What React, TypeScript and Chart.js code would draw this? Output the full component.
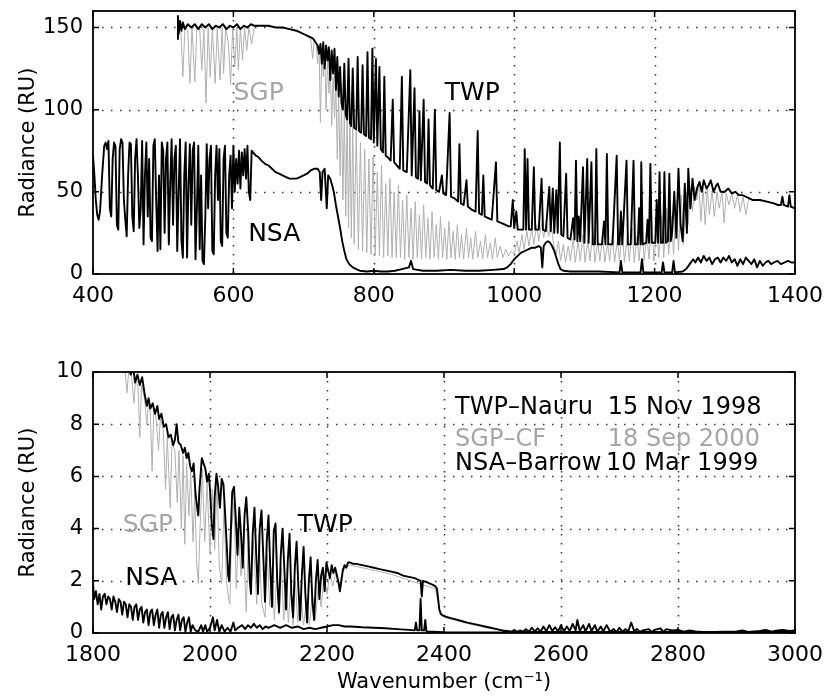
import React, { useEffect, useRef } from 'react';
import { Chart, registerables } from 'chart.js';

Chart.register(...registerables);

const FONT = 'DejaVu Sans';
const BLACK = '#000000';
const GRAY = '#a6a6a6';
const LINE_GRAY = '#b0b0b0';

type Pt = [number, number];

// ---------- Top panel (400-1400 cm-1) ----------
const topTWP: Pt[] = [
  [520,143],[521,157],[522,146],[524,154],[526,148],[528,153],[531,149],[535,152],[540,150],[545,152],[550,149],[555,152],[560,150],[565,152],[570,149],[575,151],[580,150],[585,152],[590,149],[595,151],[600,150],[605,152],[610,149],[615,151],[620,150],[625,152],[630,151],[640,151],[650,151],[660,150],[670,150],[680,149],[690,148],
  [700,146],[705,145],[710,144],[714,143],[717,141],[720,139],[722,134],[724,140],[726,128],[728,141],[730,125],[732,139],[734,130],[736,138],[738,118],[740,136],[742,122],[744,137],[746,112],[748,132],[750,108],[752,126],[754,104],[756,100],[758,128],[760,97],[762,94],[764,131],[766,92],[768,90],[770,125],[772,89],[775,88],[777,132],[779,87],[782,86],[784,127],[786,85],[789,84],[791,135],[793,83],[796,82],[798,137],
  [800,80],[803,131],[805,78],[808,126],[810,76],[813,74],[815,120],[817,72],[820,71],[824,69],[827,106],[829,68],[833,66],[837,64],[840,120],[842,63],[847,62],[852,124],[854,60],[858,113],[860,59],[863,58],[865,99],[867,57],[871,106],[873,56],[876,55],[878,94],[880,54],[884,52],[887,100],[889,51],[893,50],[897,60],[899,49],[903,48],[908,98],[910,47],[915,46],[920,44],[922,79],[924,43],[928,42],[932,57],[934,41],[940,39],[945,38],[948,87],[950,37],[954,36],[956,60],[958,35],[963,34],[968,33],[974,68],[976,32],[982,31],[987,30],[992,29],[995,29],[998,45],
  [1000,28],[1003,38],[1005,27],[1010,27],[1013,27],[1015,76],[1017,27],[1019,70],[1021,27],[1025,27],[1028,65],[1030,27],[1035,27],[1039,58],[1041,27],[1045,26],[1050,53],[1052,26],[1055,52],[1057,25],[1060,51],[1062,25],[1065,80],[1067,24],[1070,23],[1074,61],[1076,22],[1080,21],[1084,34],[1086,21],[1088,69],[1090,20],[1092,35],[1094,20],[1098,65],[1100,19],[1104,70],[1106,19],[1110,68],[1112,18],[1115,18],[1117,76],[1119,18],[1125,18],[1128,32],[1130,18],[1132,73],[1134,18],[1140,18],[1146,72],[1148,18],[1150,18],[1152,38],[1154,18],[1160,69],[1162,18],[1166,18],[1170,69],[1172,18],[1176,18],[1178,40],[1180,18],[1181,68],[1183,18],[1188,19],[1190,33],[1192,19],[1194,67],[1196,19],[1201,19],[1203,45],[1205,19],[1207,62],[1209,19],[1212,19],[1214,62],[1216,19],[1219,20],[1221,61],[1223,20],
  [1225,25],[1228,50],[1231,22],[1234,64],[1237,30],[1240,20],[1243,55],[1246,25],[1248,64],[1251,40],[1254,58],[1257,45],[1261,53],[1264,56],[1267,50],[1270,57],[1274,52],[1277,54],[1280,57],[1284,50],[1288,54],[1290,55],[1294,50],[1300,50],[1305,52],[1310,49],[1315,50],[1320,48],[1325,48],[1330,47],[1335,46],[1340,45],[1350,45],[1360,44],[1370,43],[1375,42],[1380,42],[1382,47],[1384,42],[1390,41],[1392,48],[1394,41],[1400,40],
];

const topSGP: Pt[] = [
  [525,150],[528,120],[531,150],[535,148],[538,116],[541,150],[545,117],[548,150],[552,149],[555,124],[558,149],[561,104],[564,150],[567,120],[570,150],[574,116],[577,150],[581,118],[584,150],[586,122],[589,150],[593,140],[596,115],[599,150],[602,126],[605,150],[607,124],[610,150],[613,130],[616,150],[619,136],[622,150],[626,140],[630,151],[640,151],[660,150],[680,149],[700,146],[705,145],[710,143],[713,131],[715,142],[718,140],[720,128],[722,139],[724,92],[726,136],[728,120],[730,134],[732,100],[734,130],[736,110],[738,128],[740,90],[742,120],[744,95],[746,115],[748,70],[750,110],[752,60],[754,105],[756,45],[758,100],[760,35],[762,98],[764,28],[766,95],[768,22],[770,90],[772,18],[775,88],[778,15],[781,80],[784,14],[787,76],[790,13],[793,70],[796,12],[799,72],
  [802,12],[805,62],[808,11],[811,66],[814,10],[817,55],[820,11],[823,58],[826,10],[829,50],[832,10],[835,54],[838,10],[841,45],[844,9],[847,48],[850,10],[853,40],[856,9],[859,44],[862,10],[865,36],[868,9],[871,42],[874,10],[877,34],[880,9],[883,38],[886,10],[889,30],[892,9],[895,35],[898,10],[901,28],[904,9],[907,32],[910,10],[913,26],[916,9],[919,30],[922,10],[925,24],[928,9],[932,28],[935,10],[938,22],[941,9],[945,26],[948,10],[952,20],[955,9],[959,24],[962,10],[966,19],[969,9],[973,22],[976,10],[980,17],[984,10],[988,15],[992,11],[996,14],
  [1000,12],[1004,20],[1007,13],[1011,24],[1014,15],[1018,26],[1021,17],[1025,28],[1028,18],[1032,30],[1035,20],[1039,31],[1042,22],[1046,32],[1049,23],[1053,29],[1056,18],[1060,12],[1063,20],[1066,8],[1070,18],[1073,7],[1077,17],[1080,8],[1084,22],[1087,7],[1091,20],[1094,8],[1098,24],[1101,7],[1105,21],[1108,8],[1112,26],[1115,7],[1119,20],[1122,8],[1126,24],[1129,7],[1133,19],[1136,8],[1140,25],[1143,7],[1147,21],[1150,8],[1154,27],[1157,7],[1161,22],[1164,8],[1168,28],[1171,7],[1175,23],[1178,8],[1182,30],[1185,8],[1189,24],[1192,9],[1196,32],[1199,8],
  [1203,27],[1206,10],[1210,36],[1213,10],[1217,40],[1220,12],[1224,35],[1227,12],[1231,45],[1234,14],[1238,48],[1241,18],[1245,50],[1248,30],[1251,52],[1254,38],[1257,53],[1260,45],[1263,54],[1266,32],[1269,53],[1272,30],[1275,52],[1278,36],[1282,51],[1285,35],[1289,50],[1292,40],[1296,50],[1299,31],[1302,49],[1306,42],[1310,49],[1314,40],[1318,48],[1322,38],[1326,47],[1330,36],[1334,46],[1340,45],[1350,45],[1360,44],[1370,43],[1380,42],[1390,41],[1400,40],
];

const topNSA: Pt[] = [
  [400,72],[402,60],[404,45],[406,36],[408,33],[410,38],[413,60],[416,78],[418,80],[420,76],[422,81],[424,40],[426,35],[428,70],[430,80],[432,78],[434,30],[436,27],[438,76],[440,82],[442,80],[444,45],[446,33],[448,23],[450,60],[452,80],[454,79],[456,35],[458,26],[460,70],[462,82],[464,60],[466,28],[468,40],[470,81],[472,18],[474,60],[476,80],[478,35],[480,70],[482,22],[484,20],[486,78],[488,82],[490,45],[492,14],[494,60],[496,15],[498,80],[500,75],[502,25],[504,70],[506,80],[508,18],[510,55],[512,82],[514,30],[516,70],[518,78],[520,14],[522,50],[524,82],[526,20],[528,10],[530,60],[532,80],[534,10],[536,55],[538,79],[540,30],[542,75],[544,80],[546,9],[548,40],[550,78],[552,15],[554,60],[556,8],[558,6],[560,35],[562,79],[564,40],[566,70],[568,78],[570,14],[572,12],[574,60],[576,78],[578,45],[580,76],[582,20],[584,17],[586,70],[588,78],[590,25],[592,22],[594,60],[596,72],[598,40],
  [600,78],[602,50],[604,70],[606,55],[608,75],[610,52],[612,74],[614,60],[616,76],[618,58],[620,78],[622,50],[624,45],[626,75],[628,74],[632,72],[636,71],[640,69],[645,67],[650,66],[655,64],[660,62],[665,61],[670,60],[675,59],[680,58],[685,58],[690,58],[695,59],[700,60],[705,61],[710,63],[715,64],[720,64],[723,62],[725,45],[727,62],[730,64],[733,40],[735,60],[738,58],[740,55],[743,50],[746,42],[749,35],[752,28],[755,20],[758,14],[761,9],[765,6],[770,4],[775,3],[780,2],[790,1.5],
  [800,2],[810,1.5],[820,1.5],[830,2],[840,3],[850,4],[853,8],[856,3],[870,2],[890,2],[910,2.5],[930,2],[950,2],[970,2.5],[985,3],[990,4],[995,6],[1000,9],[1005,11],[1010,13],[1015,14],[1020,15],[1025,16],[1030,16],[1035,17],[1038,16],[1040,4],[1042,17],[1045,19],[1048,20],[1051,19],[1054,17],[1057,14],[1060,10],[1063,6],[1066,3],[1070,2],[1080,1.5],[1100,1.5],[1120,1.5],[1150,1],[1152,8],[1154,1],[1180,1],[1182,9],[1184,1],[1200,1],[1210,1],[1212,7],[1214,1],[1225,1],[1227,8],[1229,1],
  [1240,1.5],[1245,3],[1250,6],[1255,9],[1258,7],[1262,10],[1266,7],[1270,11],[1274,8],[1278,10],[1282,6],[1286,9],[1290,10],[1294,7],[1298,10],[1302,8],[1306,11],[1310,7],[1314,9],[1318,5],[1322,9],[1326,6],[1330,10],[1334,8],[1338,6],[1342,9],[1346,4],[1350,8],[1354,5],[1358,7],[1362,8],[1366,6],[1370,7],[1375,8],[1380,6],[1385,7],[1390,8],[1395,7],[1400,7],
];

// ---------- Bottom panel (1800-3000 cm-1) ----------
const botTWP: Pt[] = [
  [1850,11],[1855,10.5],[1860,10.2],[1865,9.9],[1868,10.3],[1872,9.6],[1876,9.9],[1880,9.5],[1884,9.8],[1888,9.2],[1892,8.7],[1895,9.0],[1898,8.6],[1902,8.8],[1906,8.4],[1910,8.7],[1913,8.2],[1917,8.4],[1921,7.9],[1925,8.0],[1929,7.5],[1933,7.6],[1937,7.2],[1940,7.4],[1943,8.0],[1946,7.3],[1950,7.2],[1954,6.9],[1957,7.1],[1960,6.7],[1963,6.9],[1966,6.4],[1969,6.2],[1972,6.5],[1975,5.4],[1977,5.0],[1980,4.5],[1982,5.5],[1986,6.7],[1989,6.5],[1992,6.3],[1995,5.8],[1998,6.1],
  [2000,5.5],[2003,4.2],[2006,3.6],[2008,5.2],[2011,6.1],[2014,5.6],[2017,4.8],[2020,5.9],[2023,5.7],[2026,4.5],[2029,3.2],[2031,2.2],[2033,2.0],[2035,3.5],[2038,5.4],[2041,5.6],[2044,4.4],[2047,3.0],[2050,4.8],[2053,3.8],[2056,2.5],[2059,4.5],[2062,5.2],[2065,4.0],[2068,2.0],[2070,1.5],[2073,3.8],[2076,4.8],[2079,3.0],[2082,1.5],[2085,4.0],[2088,4.7],[2091,3.0],[2094,1.2],[2097,3.5],[2100,4.5],[2103,2.5],[2106,1.0],[2109,3.9],[2112,4.2],[2115,2.0],[2118,0.8],[2121,3.0],[2124,4.0],[2127,2.5],[2130,0.9],[2133,2.8],[2136,3.8],[2139,1.5],[2142,0.6],[2145,2.5],[2148,3.5],[2151,1.8],[2154,0.5],[2157,2.2],[2160,3.3],[2163,1.5],[2166,0.4],[2169,2.0],[2172,2.9],[2175,1.2],[2178,0.5],[2181,2.0],[2184,2.8],[2187,1.3],[2190,2.2],[2193,2.5],[2196,1.6],[2199,2.7],
  [2202,2.4],[2205,2.1],[2208,2.6],[2211,2.3],[2214,2.5],[2217,2.2],[2220,1.9],[2222,1.6],[2224,1.9],[2227,2.4],[2230,2.6],[2233,2.5],[2236,2.7],[2240,2.7],[2245,2.65],[2250,2.65],[2260,2.6],[2270,2.55],[2280,2.5],[2290,2.45],[2300,2.4],[2310,2.35],[2320,2.3],[2330,2.2],[2340,2.15],[2350,2.1],[2355,2.05],[2360,2.0],[2362,1.4],[2364,2.0],[2370,1.95],[2375,1.9],[2380,1.85],[2385,1.8],[2388,1.7],[2390,1.3],[2392,0.9],[2395,0.72],[2400,0.65],[2410,0.58],[2420,0.52],[2430,0.46],[2440,0.4],[2450,0.35],[2460,0.3],[2470,0.25],[2480,0.2],[2490,0.15],[2500,0.1],[2510,0.07],[2520,0.05],[2600,0.04],[2700,0.04],[2800,0.04],[2900,0.04],[3000,0.04],
];

const botSGP: Pt[] = [
  [1850,10.5],[1855,10.0],[1858,9.2],[1861,10.0],[1866,9.8],[1870,8.8],[1873,9.8],[1877,9.4],[1880,7.5],[1883,9.5],[1888,9.0],[1892,8.0],[1895,8.8],[1898,8.4],[1901,6.2],[1904,8.6],[1908,8.2],[1912,7.0],[1915,8.2],[1920,7.8],[1924,5.5],[1927,7.5],[1932,4.8],[1935,7.3],[1940,7.0],[1944,5.0],[1947,7.0],[1951,4.0],[1954,6.8],[1957,3.4],[1960,6.5],[1964,4.5],[1967,6.2],[1971,3.5],[1974,5.5],[1977,2.8],[1980,1.9],[1983,4.0],[1987,6.3],[1991,3.5],[1995,5.8],
  [2000,3.0],[2004,5.5],[2008,3.2],[2012,5.8],[2016,2.5],[2020,1.9],[2024,5.0],[2028,2.0],[2032,1.3],[2034,1.1],[2037,4.0],[2041,5.0],[2045,1.7],[2049,4.0],[2053,2.2],[2057,3.5],[2062,0.8],[2066,4.0],[2070,1.5],[2074,3.5],[2080,1.1],[2084,3.8],[2088,1.2],[2094,0.6],[2098,3.0],[2102,1.0],[2106,2.5],[2110,0.5],[2114,2.2],[2118,0.7],[2122,2.5],[2126,0.5],[2130,2.0],[2134,0.4],[2138,1.8],[2142,0.3],[2146,2.0],[2150,0.4],[2155,1.5],[2160,0.3],[2165,1.2],[2170,0.3],[2175,1.5],[2180,0.5],[2185,1.8],[2190,1.0],[2195,2.2],
  [2200,1.5],[2205,2.3],[2210,1.8],[2215,2.3],[2220,1.8],[2225,2.2],[2230,2.5],[2240,2.6],[2250,2.55],[2270,2.45],[2290,2.35],[2310,2.25],[2330,2.1],[2350,1.95],[2370,1.8],[2385,1.7],[2390,1.2],[2393,0.7],[2400,0.6],[2420,0.48],[2440,0.36],[2460,0.26],[2480,0.17],[2500,0.09],[2520,0.04],[2550,0.02],[3000,0.02],
];

const botNSA: Pt[] = [
  [1800,1.9],[1802,1.3],[1805,1.6],[1808,1.1],[1811,1.5],[1814,0.9],[1817,1.4],[1820,1.5],[1823,1.1],[1826,1.4],[1829,1.3],[1832,0.9],[1835,1.4],[1838,1.2],[1841,0.8],[1844,1.3],[1847,1.2],[1850,0.7],[1853,1.2],[1856,1.1],[1859,0.6],[1862,1.1],[1865,1.0],[1868,0.5],[1871,1.0],[1874,1.1],[1877,0.5],[1880,0.9],[1883,1.0],[1886,0.4],[1889,0.8],[1892,0.9],[1895,0.3],[1898,0.8],[1901,0.9],[1904,0.3],[1907,0.7],[1910,0.9],[1913,0.2],[1916,0.7],[1919,0.8],[1922,0.2],[1925,0.6],[1928,0.8],[1931,0.15],[1934,0.6],[1937,0.7],[1940,0.1],[1943,0.5],[1946,0.7],[1949,0.1],[1952,0.5],[1955,0.6],[1958,0.05],[1961,0.4],[1964,0.6],[1967,0.05],[1970,0.3],[1975,0.1],[1980,0.05],[1985,0.3],[1988,0.05],[1992,0.3],[1995,0.05],
  [2000,0.2],[2005,0.6],[2008,0.1],[2012,0.5],[2016,0.05],[2020,0.3],[2025,0.05],[2030,0.2],[2035,0.05],[2040,0.4],[2043,0.1],[2048,0.2],[2055,0.3],[2060,0.15],[2065,0.3],[2070,0.2],[2075,0.35],[2080,0.2],[2085,0.3],[2090,0.15],[2095,0.25],[2100,0.2],[2110,0.3],[2120,0.2],[2130,0.3],[2140,0.2],[2150,0.25],[2160,0.15],[2170,0.2],[2180,0.15],[2190,0.2],[2200,0.25],[2210,0.3],[2220,0.3],[2230,0.25],[2240,0.25],[2260,0.22],[2280,0.2],[2300,0.18],[2320,0.15],[2340,0.12],[2350,0.1],[2352,0.4],[2354,0.1],[2358,0.1],[2360,1.3],[2362,0.1],[2366,0.1],[2368,0.5],[2370,0.05],[2380,0.05],[2400,0.03],[2450,0.02],
  [2500,0.03],[2510,0.06],[2515,0.03],[2520,0.12],[2525,0.04],[2530,0.1],[2535,0.05],[2540,0.15],[2545,0.05],[2550,0.2],[2555,0.06],[2560,0.18],[2565,0.05],[2570,0.25],[2575,0.07],[2580,0.3],[2585,0.08],[2590,0.22],[2595,0.06],[2600,0.3],[2605,0.07],[2610,0.25],[2615,0.08],[2620,0.35],[2625,0.1],[2628,0.5],[2632,0.08],[2638,0.3],[2642,0.06],[2648,0.35],[2652,0.08],[2658,0.3],[2662,0.05],[2668,0.25],[2672,0.06],[2678,0.3],[2684,0.05],[2690,0.15],[2695,0.04],[2700,0.2],[2705,0.05],[2710,0.15],[2715,0.06],[2720,0.4],[2725,0.08],[2730,0.15],[2735,0.04],[2740,0.1],[2750,0.15],[2755,0.04],[2760,0.12],[2770,0.18],[2775,0.04],[2780,0.15],[2790,0.1],[2800,0.12],[2810,0.05],[2820,0.1],[2830,0.06],[2840,0.05],[2860,0.04],[2880,0.05],[2900,0.06],[2910,0.1],[2920,0.04],[2940,0.08],[2950,0.12],[2960,0.05],[2970,0.1],[2980,0.12],[2990,0.08],[3000,0.1],
];

// text annotations (data coordinates)
const topLabels = [
  { text: 'SGP', x: 600, y: 110, color: GRAY, size: 25 },
  { text: 'TWP', x: 901, y: 110, color: BLACK, size: 25 },
  { text: 'NSA', x: 621, y: 24, color: BLACK, size: 25 },
];
const bottomLabels = [
  { text: 'SGP', x: 1851, y: 4.1, color: GRAY, size: 25 },
  { text: 'TWP', x: 2150, y: 4.1, color: BLACK, size: 25 },
  { text: 'NSA', x: 1855, y: 2.07, color: BLACK, size: 25 },
  { text: 'TWP\u2013Nauru', x: 2419, y: 8.62, color: BLACK, size: 24 },
  { text: '15 Nov 1998', x: 2680, y: 8.62, color: BLACK, size: 24 },
  { text: 'SGP\u2013CF', x: 2419, y: 7.39, color: GRAY, size: 24 },
  { text: '18 Sep 2000', x: 2680, y: 7.39, color: GRAY, size: 24 },
  { text: 'NSA\u2013Barrow', x: 2419, y: 6.47, color: BLACK, size: 24 },
  { text: '10 Mar 1999', x: 2677, y: 6.47, color: BLACK, size: 24 },
];

const framePlugin = {
  id: 'frame',
  beforeDatasetsDraw(chart: any) {
    const { ctx, chartArea: a, scales } = chart;
    ctx.save();
    ctx.strokeStyle = '#333';
    ctx.lineWidth = 1.5;
    ctx.setLineDash([1.5, 7.5]);
    for (const t of scales.x.ticks) {
      const px = Math.round(scales.x.getPixelForValue(t.value)) + 0.5;
      if (px <= a.left + 2 || px >= a.right - 2) continue;
      ctx.beginPath(); ctx.moveTo(px, a.top); ctx.lineTo(px, a.bottom); ctx.stroke();
    }
    for (const t of scales.y.ticks) {
      const py = Math.round(scales.y.getPixelForValue(t.value)) + 0.5;
      if (py <= a.top + 2 || py >= a.bottom - 2) continue;
      ctx.beginPath(); ctx.moveTo(a.left, py); ctx.lineTo(a.right, py); ctx.stroke();
    }
    ctx.restore();
  },
  afterDatasetsDraw(chart: any, _args: any, opts: any) {
    const { ctx, chartArea: a, scales } = chart;
    ctx.save();
    ctx.setLineDash([]);
    ctx.strokeStyle = '#000';
    ctx.lineWidth = 1.8;
    ctx.strokeRect(a.left, a.top, a.right - a.left, a.bottom - a.top);
    const L = 6;
    ctx.lineWidth = 1.5;
    for (const t of scales.x.ticks) {
      const px = scales.x.getPixelForValue(t.value);
      ctx.beginPath();
      ctx.moveTo(px, a.bottom); ctx.lineTo(px, a.bottom - L);
      ctx.moveTo(px, a.top); ctx.lineTo(px, a.top + L);
      ctx.stroke();
    }
    for (const t of scales.y.ticks) {
      const py = scales.y.getPixelForValue(t.value);
      ctx.beginPath();
      ctx.moveTo(a.left, py); ctx.lineTo(a.left + L, py);
      ctx.moveTo(a.right, py); ctx.lineTo(a.right - L, py);
      ctx.stroke();
    }
    ctx.textAlign = 'left';
    ctx.textBaseline = 'middle';
    for (const l of (opts.labels || [])) {
      ctx.font = `${l.size}px "${FONT}"`;
      ctx.fillStyle = l.color;
      ctx.fillText(l.text, scales.x.getPixelForValue(l.x), scales.y.getPixelForValue(l.y));
    }
    ctx.restore();
  },
};

type Series = { pts: Pt[]; color: string; width: number };

interface PanelProps {
  top: number;
  height: number;
  padTop: number;
  axisH: number;
  xMin: number; xMax: number; xStep: number;
  yMin: number; yMax: number; yStep: number;
  series: Series[];
  labels: any[];
  xTitle?: string;
}

function Panel(p: PanelProps) {
  const ref = useRef<HTMLCanvasElement>(null);
  useEffect(() => {
    const chart = new Chart(ref.current as HTMLCanvasElement, {
      type: 'line',
      data: {
        datasets: p.series.map((s) => ({
          data: s.pts.map(([x, y]) => ({ x, y })),
          borderColor: s.color,
          borderWidth: s.width,
          pointRadius: 0,
          tension: 0,
          fill: false,
          borderJoinStyle: 'round' as const,
        })),
      },
      options: {
        responsive: false,
        animation: false,
        devicePixelRatio: 1,
        events: [],
        layout: { padding: { left: 0, right: 31, top: p.padTop, bottom: 0 } },
        plugins: {
          legend: { display: false },
          tooltip: { enabled: false },
          frame: { labels: p.labels },
        } as any,
        scales: {
          x: {
            type: 'linear',
            min: p.xMin,
            max: p.xMax,
            grid: { display: false },
            border: { display: false },
            ticks: {
              stepSize: p.xStep,
              includeBounds: false,
              autoSkip: false,
              maxRotation: 0,
              padding: 1,
              color: '#000',
              font: { family: FONT, size: 22 },
              callback: (v: any) => String(v),
            },
            title: p.xTitle
              ? { display: true, text: p.xTitle, color: '#000', font: { family: FONT, size: 21 }, padding: { top: 0, bottom: 1 } }
              : { display: false },
            afterFit: (s: any) => { s.height = p.axisH; },
          },
          y: {
            type: 'linear',
            min: p.yMin,
            max: p.yMax,
            grid: { display: false, drawTicks: false },
            border: { display: false },
            ticks: {
              stepSize: p.yStep,
              includeBounds: false,
              padding: 10,
              color: '#000',
              font: { family: FONT, size: 21 },
              callback: (v: any) => String(v),
            },
            title: { display: true, text: 'Radiance (RU)', color: '#000', font: { family: FONT, size: 21 }, padding: { top: 16, bottom: 0 } },
            afterFit: (s: any) => { s.width = 93; },
          },
        },
      } as any,
      plugins: [framePlugin],
    });
    return () => chart.destroy();
  }, []);
  return (
    <canvas
      ref={ref}
      width={826}
      height={p.height}
      style={{ position: 'absolute', left: 0, top: p.top, width: 826, height: p.height }}
    />
  );
}

export default function App() {
  return (
    <div style={{ position: 'absolute', left: 0, top: 0, width: 826, height: 696, background: '#fff', overflow: 'hidden' }}>
      <Panel
        top={-40} height={360} padTop={51} axisH={46}
        xMin={400} xMax={1400} xStep={200}
        yMin={0} yMax={160} yStep={50}
        series={[
          { pts: topNSA, color: BLACK, width: 1.9 },
          { pts: topTWP, color: BLACK, width: 1.9 },
          { pts: topSGP, color: LINE_GRAY, width: 1 },
        ]}
        labels={topLabels}
      />
      <Panel
        top={320} height={376} padTop={52} axisH={63}
        xMin={1800} xMax={3000} xStep={200}
        yMin={0} yMax={10} yStep={2}
        series={[
          { pts: botNSA, color: BLACK, width: 1.9 },
          { pts: botTWP, color: BLACK, width: 1.9 },
          { pts: botSGP, color: LINE_GRAY, width: 1 },
        ]}
        labels={bottomLabels}
        xTitle={'Wavenumber (cm\u207B\u00B9)'}
      />
    </div>
  );
}
